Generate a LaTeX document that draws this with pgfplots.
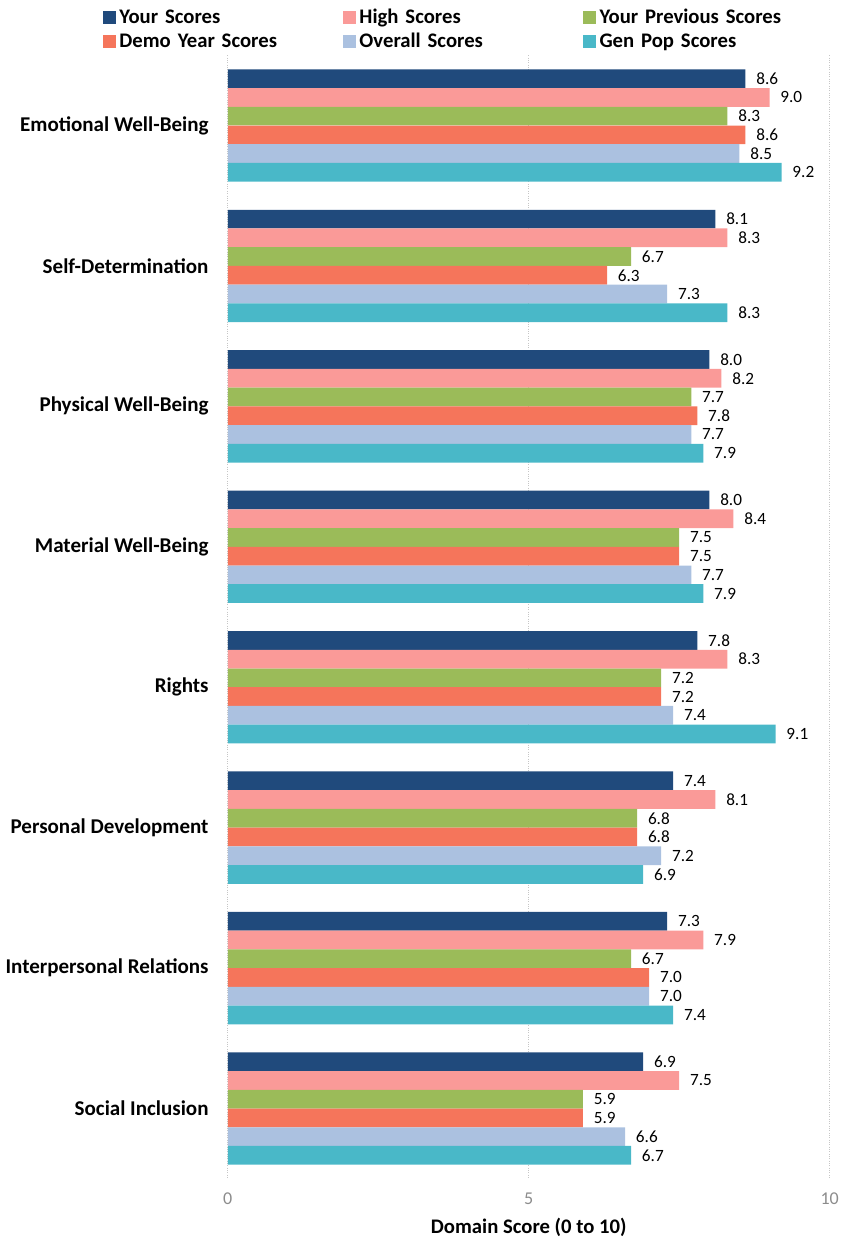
\documentclass[border=0pt]{standalone}
\usepackage{pgfplots}
\pgfplotsset{compat=1.18}
\usepackage{fontspec}
\setmainfont{Carlito}
\definecolor{cYour}{HTML}{204A7C}
\definecolor{cHigh}{HTML}{FA9A98}
\definecolor{cPrev}{HTML}{9BBB59}
\definecolor{cDemo}{HTML}{F5755B}
\definecolor{cOver}{HTML}{ABC1E0}
\definecolor{cGen}{HTML}{49B8C8}
\definecolor{cTick}{HTML}{8C8C8C}
\pgfplotsset{sqlegend/.style={legend image code/.code={\fill[##1] (0pt,-3.8pt) rectangle (7.8pt,4pt);}}}
\begin{document}
\begin{tikzpicture}
\begin{axis}[
  scale only axis, width=360.6pt, height=673pt,
  xbar, y dir=reverse,
  xmin=0, xmax=10, ymin=-0.5, ymax=7.5,
  xtick={0,5,10}, ytick={0,1,2,3,4,5,6,7},
  yticklabels={Emotional Well-Being, Self-Determination, Physical Well-Being, Material Well-Being, Rights, Personal Development, Interpersonal Relations, Social Inclusion},
  /pgf/number format/assume math mode=true,
  axis line style={draw=none}, major tick length=0pt,
  xmajorgrids, grid style={densely dotted, gray!45, line width=0.6pt},
  bar width=0.1333,
  yticklabel style={font=\fontsize{12.6}{14}\selectfont\bfseries, xshift=-8pt},
  xticklabel style={font=\fontsize{10.8}{13}\selectfont, text=cTick, yshift=-5pt},
  xlabel={\bfseries Domain Score (0 to 10)},
  xlabel style={font=\fontsize{12.4}{14}\selectfont, at={(axis description cs:0.5,0)}, anchor=center, yshift=-29.5pt, inner ysep=1.45pt, text height=9pt, text depth=2.5pt},
  nodes near coords,
  nodes near coords style={font=\fontsize{10.3}{12}\selectfont, anchor=west, xshift=3pt, /pgf/number format/.cd, fixed, fixed zerofill, precision=1},
  sqlegend,
  legend columns=3,
  legend cell align=left,
  legend style={draw=none, fill=none, at={(-0.216,1.0495)}, anchor=north west,
    inner xsep=3pt, inner ysep=3.6pt,
    font=\fontsize{12.4}{14}\selectfont\bfseries,
    nodes={text width=132pt, inner xsep=2pt, inner ysep=1.45pt, text height=9pt, text depth=2.5pt}},
]
\addplot[fill=cYour, draw=none, bar shift=-0.3333] coordinates {(8.6,0) (8.1,1) (8.0,2) (8.0,3) (7.8,4) (7.4,5) (7.3,6) (6.9,7)};
\addplot[fill=cHigh, draw=none, bar shift=-0.2] coordinates {(9.0,0) (8.3,1) (8.2,2) (8.4,3) (8.3,4) (8.1,5) (7.9,6) (7.5,7)};
\addplot[fill=cPrev, draw=none, bar shift=-0.0667] coordinates {(8.3,0) (6.7,1) (7.7,2) (7.5,3) (7.2,4) (6.8,5) (6.7,6) (5.9,7)};
\addplot[fill=cDemo, draw=none, bar shift=0.0667] coordinates {(8.6,0) (6.3,1) (7.8,2) (7.5,3) (7.2,4) (6.8,5) (7.0,6) (5.9,7)};
\addplot[fill=cOver, draw=none, bar shift=0.2] coordinates {(8.5,0) (7.3,1) (7.7,2) (7.7,3) (7.4,4) (7.2,5) (7.0,6) (6.6,7)};
\addplot[fill=cGen, draw=none, bar shift=0.3333] coordinates {(9.2,0) (8.3,1) (7.9,2) (7.9,3) (9.1,4) (6.9,5) (7.4,6) (6.7,7)};
\legend{Your Scores, High Scores, Your Previous Scores, Demo Year Scores, Overall Scores, Gen Pop Scores}
\end{axis}
\end{tikzpicture}
\end{document}
